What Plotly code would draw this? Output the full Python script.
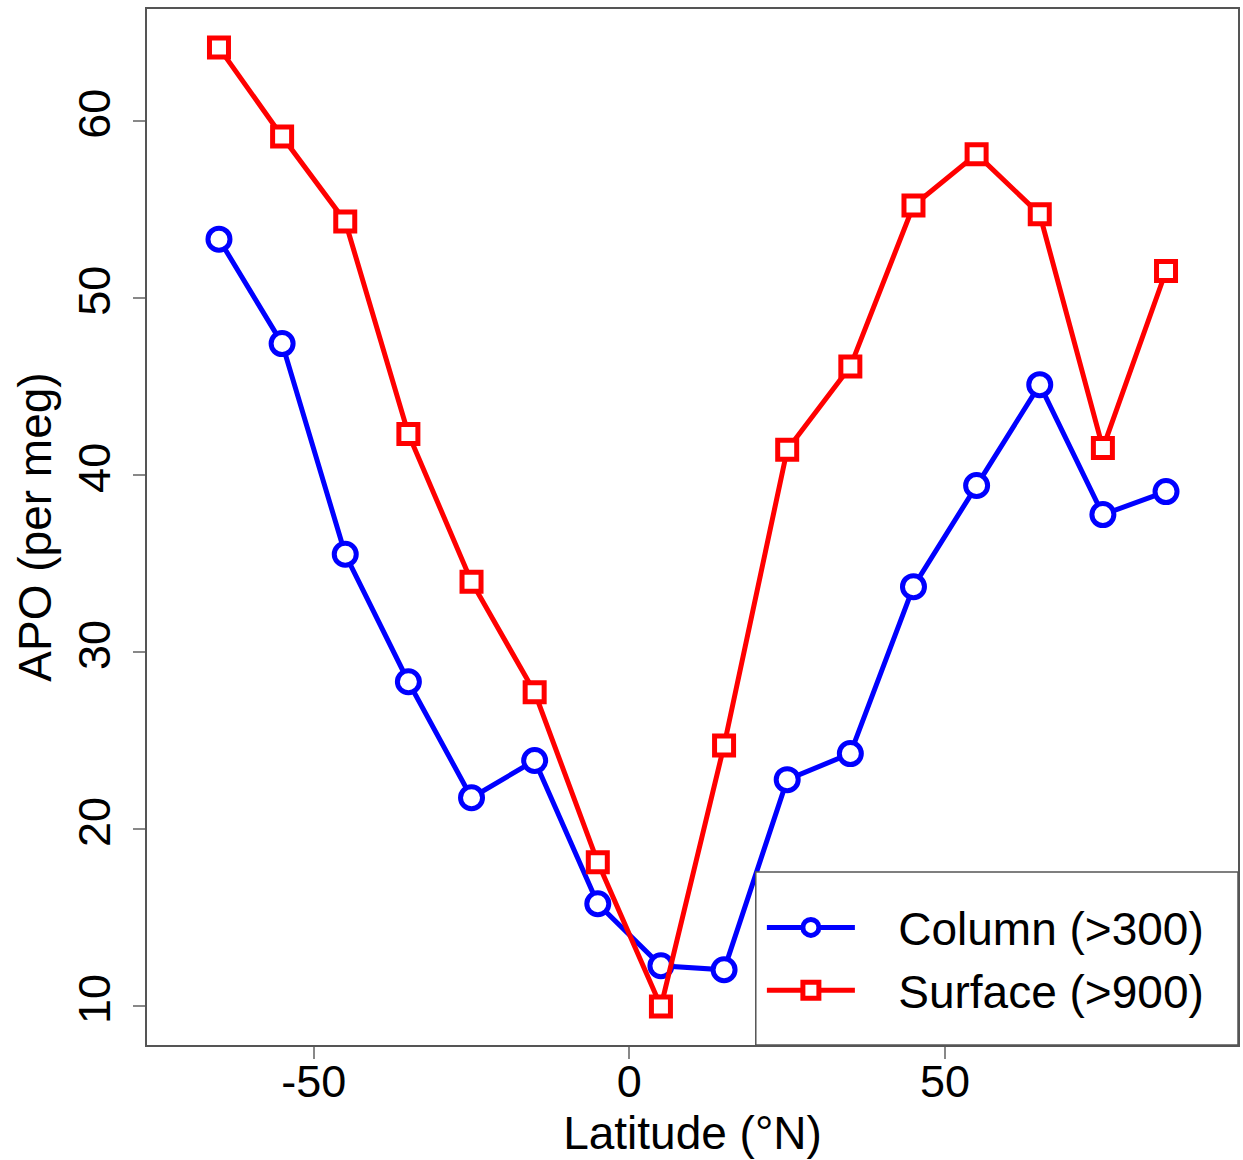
import plotly.graph_objects as go

latitude = [-65, -55, -45, -35, -25, -15, -5, 5, 15, 25, 35, 45, 55, 65, 75, 85]
column_apo = [53.3, 47.4, 35.5, 28.3, 21.75, 23.85, 15.76, 12.26, 12.03, 22.77, 24.24, 33.67, 39.38, 45.08, 37.74, 39.04]
surface_apo = [64.12, 59.1, 54.3, 42.3, 33.95, 27.7, 18.1, 9.95, 24.7, 41.4, 46.1, 55.2, 58.1, 54.7, 41.5, 51.5]
x_ticks = [-50, 0, 50]
y_ticks = [10, 20, 30, 40, 50, 60]

FONT = "Liberation Sans"
GAP = "\u00a0\u00a0\u00a0"

fig = go.Figure()
fig.add_trace(go.Scatter(
    x=latitude, y=column_apo, mode="lines+markers", name=GAP + "Column (>300)",
    line=dict(color="#0000ff", width=5),
    marker=dict(symbol="circle", size=22, color="white", line=dict(color="#0000ff", width=5)),
))
fig.add_trace(go.Scatter(
    x=latitude, y=surface_apo, mode="lines+markers", name=GAP + "Surface (>900)",
    line=dict(color="#ff0000", width=5),
    marker=dict(symbol="square", size=19, color="white", line=dict(color="#ff0000", width=5)),
))

# legend frame (drawn above the data, like R's legend box)
fig.add_shape(
    type="rect", xref="paper", yref="paper",
    x0=0.558, x1=1.0, y0=0.0, y1=0.167,
    fillcolor="white", line=dict(color="#555555", width=1.5), layer="above",
)

fig.update_layout(
    width=1243, height=1160,
    margin=dict(l=147, r=3, t=9, b=115),
    paper_bgcolor="white", plot_bgcolor="white",
    font=dict(family=FONT, size=44, color="black"),
    showlegend=True,
    legend=dict(
        x=0.5636, y=0.083, xanchor="left", yanchor="middle",
        bgcolor="rgba(0,0,0,0)", borderwidth=0,
        font=dict(family=FONT, size=46, color="black"),
        itemwidth=88, tracegroupgap=0,
    ),
    xaxis=dict(
        range=[-76.4, 96.4], tickvals=x_ticks, ticktext=[str(v) for v in x_ticks],
        showgrid=False, zeroline=False,
        showline=True, linecolor="#555555", linewidth=1.5, mirror=True,
        ticks="outside", ticklen=12, tickwidth=1.5, tickcolor="#888888",
        ticklabelstandoff=-16,
        tickfont=dict(family=FONT, size=45),
        title=dict(text="Latitude (°N)", font=dict(family=FONT, size=46), standoff=1),
    ),
    yaxis=dict(
        range=[7.78, 66.3], tickvals=y_ticks, ticktext=[str(v) for v in y_ticks],
        showgrid=False, zeroline=False,
        showline=True, linecolor="#555555", linewidth=1.5, mirror=True,
        ticks="outside", ticklen=12, tickwidth=1.5, tickcolor="#888888",
        tickangle=-90, ticklabelstandoff=5,
        tickfont=dict(family=FONT, size=45),
        title=dict(text="APO (per meg)", font=dict(family=FONT, size=46), standoff=3),
    ),
)

fig.write_html(
    "out.html",
    config={"displayModeBar": False},
    post_script="document.body.style.margin='0px';",
)
